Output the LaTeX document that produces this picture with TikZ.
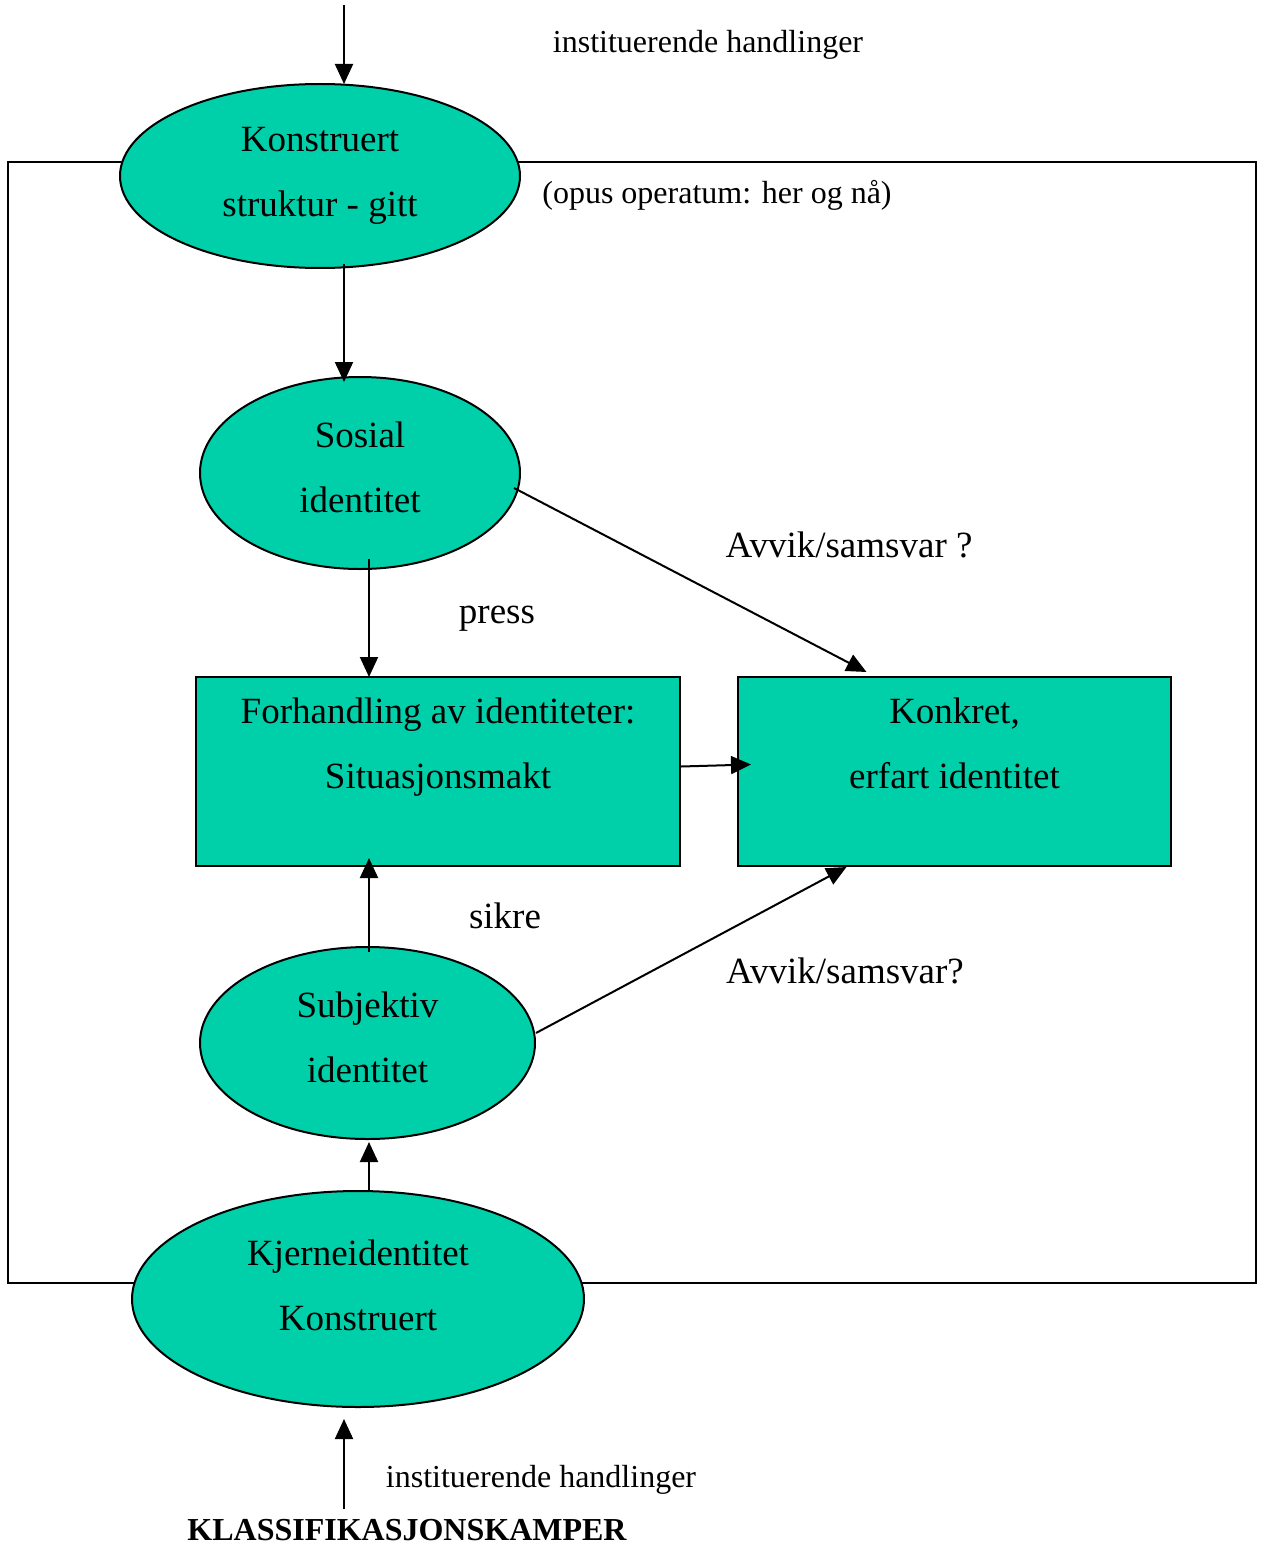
\documentclass[tikz,border=0pt]{standalone}
\usepackage{fontspec}
\setmainfont{Liberation Serif}
\usepackage{tikz}
\usetikzlibrary{arrows.meta, positioning, shapes.geometric, calc}
\definecolor{teal}{RGB}{0,208,170}
\newcommand{\pushup}[1]{\rule[-#1]{0pt}{0pt}}
\begin{document}
\begin{tikzpicture}[x=0.5pt,y=-0.5pt,line width=1pt,
    big/.style={font=\fontsize{18.5}{32.5}\selectfont,align=center},
    small/.style={font=\fontsize{16}{20}\selectfont},
    oval/.style={ellipse,draw,fill=teal,inner sep=0pt,big},
    box/.style={rectangle,draw,fill=teal,inner sep=0pt,big},
    arr/.style={-{Triangle[length=10pt,width=9pt]}}]
\useasboundingbox (0,0) rectangle (1262,1546);
\draw (8,162) rectangle (1256,1283);
\node[oval,minimum width=200pt,minimum height=92pt](konstr) at (320,176) {Konstruert\\struktur - gitt\pushup{2pt}};
\node[oval,minimum width=160pt,minimum height=96pt](sosial) at (360,473) {Sosial\\identitet\pushup{6pt}};
\node[box,minimum width=242pt,minimum height=94.5pt](forh) at (438,771.5) {Forhandling av identiteter:\\Situasjonsmakt\pushup{28pt}};
\node[box,minimum width=216.5pt,minimum height=94.5pt](konkret) at (954.5,771.5) {Konkret,\\erfart identitet\pushup{28pt}};
\node[oval,minimum width=167.5pt,minimum height=96pt](subj) at (367.5,1043) {Subjektiv\\identitet\pushup{6pt}};
\node[oval,minimum width=226pt,minimum height=108pt](kjerne) at (358,1299) {Kjerneidentitet\\Konstruert\pushup{14pt}};
\node[small](inst1) at (708,45) {instituerende handlinger};
\node[small](opus) at (717,195) {(opus operatum: her og nå)};
\node[big](press) at (497,619) {press};
\node[big](sikre) at (505,916) {sikre};
\node[big](avvik1) at (849,545) {Avvik/samsvar ?};
\node[big](avvik2) at (845,971) {Avvik/samsvar?};
\node[small](inst2) at (541,1480) {instituerende handlinger};
\node[small,inner sep=0.5pt,font=\fontsize{16}{20}\selectfont\bfseries](klass) at (407,1530) {KLASSIFIKASJONSKAMPER};
\coordinate (topin) at (344,5);
\draw[arr] (topin) -- ($(konstr.north)+(24,1)$);
\draw[arr] ($(konstr.south)+(24,-5)$) -- ($(sosial.north)+(-16,6)$);
\draw[arr] ($(sosial.south)+(9,-11)$) -- ($(forh.north)+(-69,1)$);
\draw[arr] ($(sosial.east)+(-7,15)$) -- ($(konkret.north)+(-88,-4)$);
\draw[arr] ($(forh.east)+(0,-5)$) -- ($(konkret.west)+(14,-7)$);
\draw[arr] ($(subj.north)+(1.5,6)$) -- ($(forh.south)+(-69,-9)$);
\draw[arr] ($(subj.east)+(0,-10)$) -- ($(konkret.south)+(-108,0)$);
\draw[arr] ($(kjerne.north)+(11,0)$) -- ($(subj.south)+(1.5,2)$);
\draw[arr] ($(klass.north)+(-63,-8)$) -- ($(kjerne.south)+(-14,11)$);
\end{tikzpicture}
\end{document}
